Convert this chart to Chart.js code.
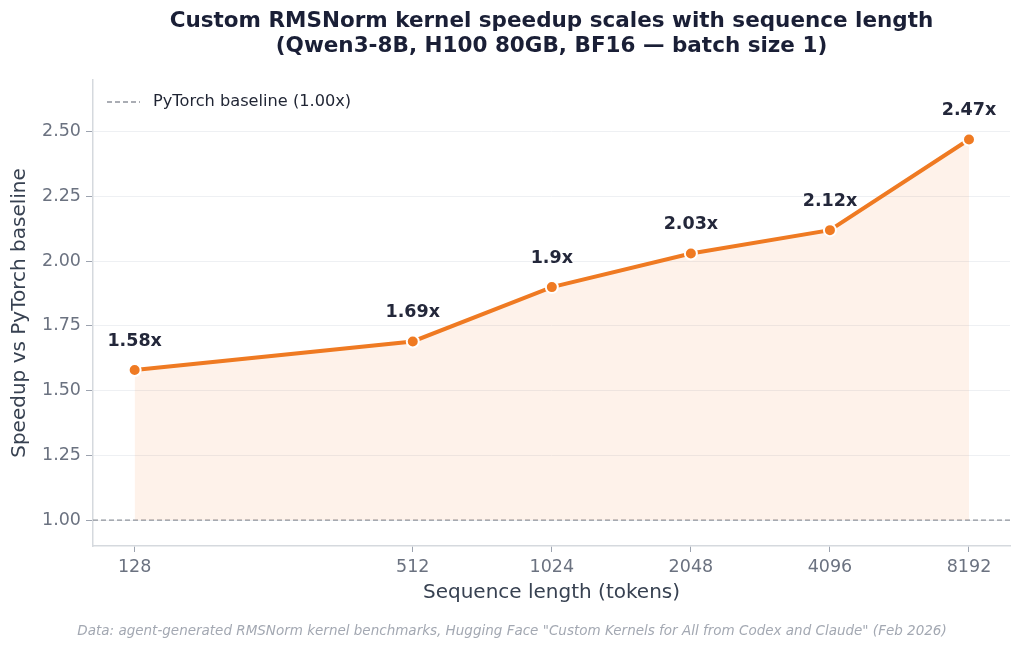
<!DOCTYPE html>
<html lang="en">
<head>
    <meta charset="UTF-8">
    <title>RMSNorm kernel speedup</title>
    <script src="https://cdn.jsdelivr.net/npm/chart.js@4.4.1/dist/chart.umd.min.js"></script>
    <style>
        html, body { margin: 0; padding: 0; background: #ffffff; }
        #wrap { width: 1024px; height: 651px; }
    </style>
</head>
<body>
    <div id="wrap"><canvas id="myChart"></canvas></div>
    <script>
        // data
        var seqLengths = [128, 512, 1024, 2048, 4096, 8192];
        var speedups = [1.58, 1.69, 1.9, 2.03, 2.12, 2.47];
        var yTicks = [1.00, 1.25, 1.50, 1.75, 2.00, 2.25, 2.50];
        var baseline = 1.0;
        var xRange = [104, 10050];
        var yRange = [0.9, 2.7];

        var titleLines = [
            'Custom RMSNorm kernel speedup scales with sequence length',
            '(Qwen3-8B, H100 80GB, BF16 \u2014 batch size 1)'
        ];
        var footerText = 'Data: agent-generated RMSNorm kernel benchmarks, Hugging Face "Custom Kernels for All from Codex and Claude" (Feb 2026)';
        var legendText = 'PyTorch baseline (1.00x)';

        var FONT = '"DejaVu Sans", sans-serif';
        var orange = '#ef7a22';
        var dashGray = '#8e939c';

        // title, footer, legend and point labels
        var extras = {
            id: 'extras',
            afterDatasetsDraw: function (chart) {
                var ctx = chart.ctx;
                var meta = chart.getDatasetMeta(1);
                ctx.save();
                ctx.fillStyle = '#23273a';
                ctx.font = 'bold 17.5px ' + FONT;
                ctx.textAlign = 'center';
                ctx.textBaseline = 'middle';
                meta.data.forEach(function (pt, i) {
                    ctx.fillText(speedups[i] + 'x', pt.x, pt.y - 29);
                });
                ctx.restore();
            },
            afterDraw: function (chart) {
                var ctx = chart.ctx;
                var area = chart.chartArea;
                var cx = (area.left + area.right) / 2;
                ctx.save();
                ctx.textAlign = 'center';
                ctx.textBaseline = 'middle';
                ctx.fillStyle = '#1a1f36';
                ctx.font = 'bold 21.5px ' + FONT;
                ctx.fillText(titleLines[0], cx, 21);
                ctx.fillText(titleLines[1], cx, 46);

                ctx.fillStyle = '#a3a8b2';
                ctx.font = 'italic 13.5px ' + FONT;
                ctx.fillText(footerText, chart.width / 2, 631);

                // legend inside the plot, top left
                var ly = area.top + 22;
                ctx.strokeStyle = dashGray;
                ctx.lineWidth = 1.3;
                ctx.setLineDash([5, 3]);
                ctx.beginPath();
                ctx.moveTo(area.left + 14, ly);
                ctx.lineTo(area.left + 47, ly);
                ctx.stroke();
                ctx.setLineDash([]);
                ctx.fillStyle = '#1f2433';
                ctx.font = '16.2px ' + FONT;
                ctx.textAlign = 'left';
                ctx.fillText(legendText, area.left + 60, ly);
                ctx.restore();
            }
        };

        var ctx = document.getElementById('myChart');
        var myChart = new Chart(ctx, {
            type: 'line',
            data: {
                datasets: [{
                    label: legendText,
                    data: [{ x: xRange[0], y: baseline }, { x: xRange[1], y: baseline }],
                    borderColor: dashGray,
                    borderWidth: 1.3,
                    borderDash: [5, 3],
                    pointRadius: 0,
                    fill: false,
                    order: 2
                }, {
                    label: 'Speedup',
                    data: seqLengths.map(function (n, i) { return { x: n, y: speedups[i] }; }),
                    borderColor: orange,
                    borderWidth: 4,
                    backgroundColor: 'rgba(249, 140, 60, 0.11)',
                    fill: { value: baseline },
                    pointRadius: 6,
                    pointBackgroundColor: orange,
                    pointBorderColor: '#ffffff',
                    pointBorderWidth: 2,
                    tension: 0,
                    order: 1
                }]
            },
            options: {
                responsive: true,
                maintainAspectRatio: false,
                animation: false,
                layout: {
                    padding: { left: 0, right: 14, top: 80, bottom: 46 }
                },
                plugins: {
                    legend: { display: false },
                    tooltip: { enabled: false },
                    title: { display: false }
                },
                scales: {
                    x: {
                        type: 'logarithmic',
                        min: xRange[0],
                        max: xRange[1],
                        afterBuildTicks: function (scale) {
                            scale.ticks = seqLengths.map(function (v) { return { value: v }; });
                        },
                        afterFit: function (scale) {
                            scale.height = 651 - 46 - 546;
                        },
                        ticks: {
                            color: '#6b7280',
                            font: { family: FONT, size: 17.5 },
                            padding: 5,
                            autoSkip: false,
                            maxRotation: 0,
                            callback: function (v) { return String(v); }
                        },
                        grid: {
                            drawOnChartArea: false,
                            tickColor: '#9ca3af',
                            tickLength: 6
                        },
                        border: { display: true, color: '#d5d9de', width: 1.5 },
                        title: {
                            display: true,
                            text: 'Sequence length (tokens)',
                            color: '#374151',
                            font: { family: FONT, size: 20 },
                            padding: { top: 0, bottom: 0 }
                        }
                    },
                    y: {
                        min: yRange[0],
                        max: yRange[1],
                        afterBuildTicks: function (scale) {
                            scale.ticks = yTicks.map(function (v) { return { value: v }; });
                        },
                        afterFit: function (scale) {
                            scale.width = 93;
                        },
                        ticks: {
                            color: '#6b7280',
                            font: { family: FONT, size: 17.5 },
                            padding: 5,
                            callback: function (v) { return v.toFixed(2); }
                        },
                        grid: {
                            color: '#eef0f3',
                            lineWidth: 1,
                            tickColor: '#9ca3af',
                            tickLength: 7
                        },
                        border: { display: true, color: '#d5d9de', width: 1.5 },
                        title: {
                            display: true,
                            text: 'Speedup vs PyTorch baseline',
                            color: '#374151',
                            font: { family: FONT, size: 20 },
                            padding: { top: 8, bottom: 0 }
                        }
                    }
                }
            },
            plugins: [extras]
        });
    </script>
</body>
</html>
